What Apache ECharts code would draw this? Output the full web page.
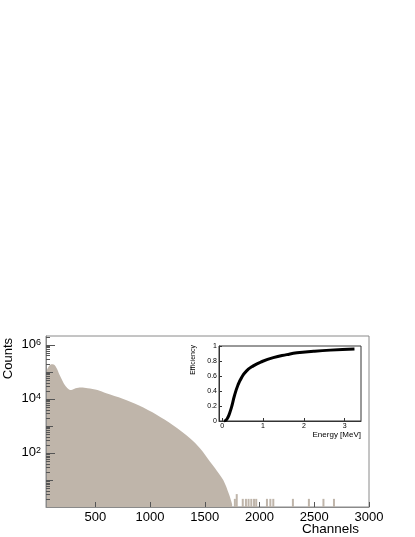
<!doctype html>
<html>
<head>
<meta charset="utf-8">
<title>Spectrum with efficiency inset</title>
<script src="https://cdn.jsdelivr.net/npm/echarts@6/dist/echarts.min.js"></script>
<style>
  html, body { margin: 0; padding: 0; background: #fff; }
  #chart { width: 415px; height: 537px; }
</style>
</head>
<body>
<div id="chart"></div>
<script>
  // main spectrum, continuous part (channel, counts)
  var bodyChannels = [50, 75, 100, 125, 150, 170, 200, 230, 260, 280, 320, 370, 430, 520, 600, 750, 900, 1060, 1210, 1370, 1460, 1550, 1610, 1670, 1720, 1750];
  var bodyCounts = [95000, 158000, 190000, 182000, 130000, 83000, 47000, 29000, 22000, 21000, 24500, 26000, 24500, 21000, 16000, 10000, 5600, 2570, 1050, 333, 142, 46, 22, 9.7, 3.1, 1.3];
  // isolated bins in the tail
  var tailChannels = [1775, 1792, 1847, 1876, 1900, 1925, 1950, 1970, 2068, 2099, 2126, 2305, 2451, 2584, 2680];
  var tailCounts = [2, 3, 2, 2, 2, 2, 2, 2, 2, 2, 2, 2, 2, 2, 2];
  // inset: detector efficiency vs energy
  var energyMeV = [0.04, 0.09, 0.14, 0.19, 0.24, 0.30, 0.385, 0.47, 0.59, 0.76, 0.96, 1.25, 1.58, 1.83, 2.24, 2.65, 3.24];
  var efficiency = [0, 0.01, 0.05, 0.12, 0.21, 0.34, 0.48, 0.575, 0.665, 0.735, 0.79, 0.845, 0.885, 0.91, 0.93, 0.945, 0.96];

  var channelTicks = [500, 1000, 1500, 2000, 2500, 3000];
  var energyTicks = [0, 1, 2, 3];
  var countDecades = [1, 2, 3, 4, 5, 6];
  var minorSteps = [2, 3, 4, 5, 6, 7, 8, 9];

  var font = '"Liberation Sans", Arial, Helvetica, sans-serif';
  var fill = '#bfb5aa';
  var frame = '#8a8a8a';

  function zip(a, b) {
    return a.map(function (v, i) { return [v, b[i]]; });
  }

  var chart = echarts.init(document.getElementById('chart'));

  var option = {
    animation: false,
    textStyle: { fontFamily: font },
    grid: [
      { left: 46, right: 46, top: 336, bottom: 30, show: true, borderColor: frame, borderWidth: 1, backgroundColor: '#fff' },
      { left: 219, right: 54, top: 346, bottom: 116, show: true, borderColor: '#333', borderWidth: 1, backgroundColor: '#fff', z: 5 }
    ],
    xAxis: [
      {
        type: 'value', gridIndex: 0, min: 50, max: 3000, z: 4,
        axisLine: { onZero: false, lineStyle: { color: frame } },
        axisTick: { inside: true, length: 5, customValues: channelTicks, lineStyle: { color: '#555' } },
        axisLabel: { customValues: channelTicks, fontSize: 13, color: '#000', margin: 4,
          formatter: function (v) { return String(v); } },
        splitLine: { show: false }
      },
      {
        type: 'value', gridIndex: 1, min: -0.08, max: 3.4, z: 6,
        axisLine: { onZero: false, lineStyle: { color: '#333' } },
        axisTick: { inside: true, length: 3, customValues: energyTicks, lineStyle: { color: '#333' } },
        axisLabel: { customValues: energyTicks, fontSize: 7, color: '#000', margin: 2 },
        splitLine: { show: false }
      }
    ],
    yAxis: [
      {
        type: 'log', logBase: 10, gridIndex: 0, min: 1, max: 2.1e6, z: 4,
        axisLine: { onZero: false, lineStyle: { color: frame } },
        axisTick: { show: false },
        axisLabel: {
          color: '#000', margin: 5, fontSize: 13,
          formatter: function (v) {
            var e = Math.round(Math.log(v) / Math.LN10);
            if (Math.abs(v / Math.pow(10, e) - 1) > 1e-6 || e % 2 !== 0 || e < 2) return '';
            return '10{s|' + e + '}';
          },
          rich: { s: { fontSize: 9, verticalAlign: 'top', color: '#000' } }
        },
        splitLine: { show: false }
      },
      {
        type: 'value', gridIndex: 1, min: 0, max: 1, interval: 0.2, z: 6,
        axisLine: { onZero: false, lineStyle: { color: '#333' } },
        axisTick: { inside: true, length: 3, lineStyle: { color: '#333' } },
        axisLabel: { fontSize: 7, color: '#000', margin: 2 },
        splitLine: { show: false }
      }
    ],
    series: [
      {
        type: 'line', xAxisIndex: 0, yAxisIndex: 0,
        data: zip(bodyChannels, bodyCounts),
        smooth: 0.3, symbol: 'none', silent: true,
        lineStyle: { width: 0 },
        areaStyle: { color: fill, opacity: 1, origin: 1 }
      },
      {
        type: 'bar', xAxisIndex: 0, yAxisIndex: 0,
        data: zip(tailChannels, tailCounts),
        barWidth: 2, silent: true,
        itemStyle: { color: fill }
      },
      {
        type: 'line', xAxisIndex: 1, yAxisIndex: 1, z: 7,
        data: zip(energyMeV, efficiency),
        smooth: 0.5, symbol: 'none', silent: true,
        lineStyle: { color: '#000', width: 3 }
      }
    ]
  };

  chart.setOption(option);

  // axis titles and ROOT style log ticks, drawn over the filled histogram
  var graphics = [
    { type: 'text', x: 8, y: 338, rotation: Math.PI / 2, z: 20,
      style: { text: 'Counts', font: '13px ' + font, fill: '#000', align: 'right', verticalAlign: 'middle' } },
    { type: 'text', x: 359, y: 529, z: 20,
      style: { text: 'Channels', font: '13.5px ' + font, fill: '#000', align: 'right', verticalAlign: 'middle' } },
    { type: 'text', x: 193, y: 345, rotation: Math.PI / 2, z: 20,
      style: { text: 'Efficiency', font: '7px ' + font, fill: '#000', align: 'right', verticalAlign: 'middle' } },
    { type: 'text', x: 361, y: 435, z: 20,
      style: { text: 'Energy [MeV]', font: '8px ' + font, fill: '#000', align: 'right', verticalAlign: 'middle' } }
  ];
  function addTick(v, len) {
    var p = chart.convertToPixel({ gridIndex: 0 }, [50, v]);
    var yy = Math.round(p[1]) + 0.5;
    graphics.push({
      type: 'line', silent: true, z: 10,
      shape: { x1: p[0], y1: yy, x2: p[0] + len, y2: yy },
      style: { stroke: '#555', lineWidth: 1 }
    });
  }
  [0].concat(countDecades).forEach(function (k) {
    var base = Math.pow(10, k);
    if (k > 0) addTick(base, k % 2 === 0 ? 9 : 7);
    minorSteps.forEach(function (m) {
      if (m * base < 2.1e6) addTick(m * base, 4);
    });
  });
  chart.setOption({ graphic: graphics });
</script>
</body>
</html>
